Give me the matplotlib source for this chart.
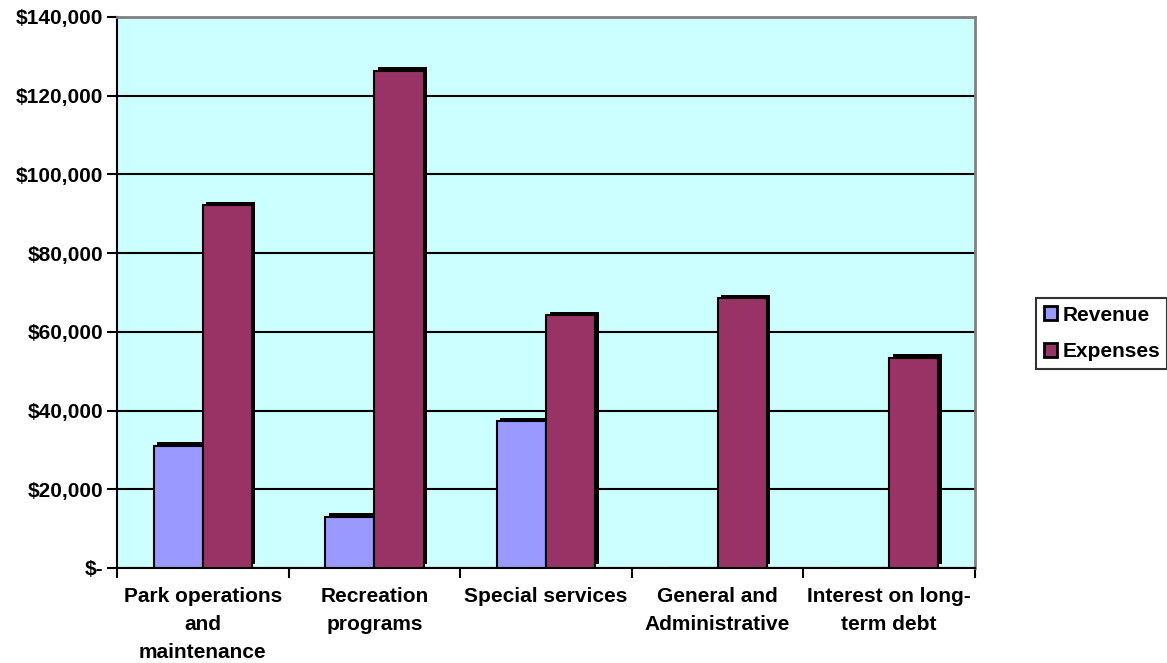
import numpy as np
import matplotlib.pyplot as plt
import matplotlib.transforms as mtransforms
from matplotlib.ticker import FuncFormatter, MultipleLocator
from matplotlib.patches import Patch

# Datos
categories = ["Park operations\nand\nmaintenance", "Recreation\nprograms",
              "Special services", "General and\nAdministrative",
              "Interest on long-\nterm debt"]
revenue = [31000, 13000, 37300, 0, 0]
expenses = [92200, 126400, 64200, 68500, 53400]

plt.rcParams.update({
    "font.family": ["Liberation Sans", "DejaVu Sans"],
    "font.weight": "bold",
})

fig = plt.figure(figsize=(11.67, 6.63), dpi=100)
ax = fig.add_axes([0.1003, 0.1433, 0.7352, 0.8311])
ax.set_facecolor("#CCFFFF")

x = np.arange(len(categories))
w = 0.286
fs = 15

# Sombra 3D (desplazada arriba/derecha)
shadow = mtransforms.offset_copy(ax.transData, fig=fig, x=3.5, y=3.5, units="dots")
for vals, off in [(revenue, -w / 2), (expenses, w / 2)]:
    ax.bar(x + off, vals, w, color="black", transform=shadow, zorder=2)

ax.bar(x - w / 2, revenue, w, color="#9999FF", edgecolor="black", linewidth=1.5, zorder=3, label="Revenue")
ax.bar(x + w / 2, expenses, w, color="#993366", edgecolor="black", linewidth=1.5, zorder=3, label="Expenses")

ax.set_xlim(-0.5, len(categories) - 0.5)
ax.set_ylim(0, 140000)
ax.yaxis.set_major_locator(MultipleLocator(20000))
ax.yaxis.set_major_formatter(FuncFormatter(lambda v, p: "$-" if v == 0 else f"${v:,.0f}"))
ax.grid(axis="y", color="black", linewidth=1.5, zorder=1)
ax.set_axisbelow(True)

# Ticks del eje x en los limites de categoria
ax.set_xticks(np.arange(len(categories) + 1) - 0.5)
ax.set_xticklabels([])
ax.set_xticks(x, minor=True)
ax.set_xticklabels(categories, minor=True, fontsize=fs, fontweight="bold", linespacing=1.58)
ax.tick_params(axis="x", which="minor", length=0, pad=14)
ax.tick_params(axis="x", which="major", length=7, width=1.5, direction="out")
ax.tick_params(axis="y", length=7, width=1.5, direction="out", labelsize=fs, pad=3)

for s in ["top", "right"]:
    ax.spines[s].set_color("#808080")
    ax.spines[s].set_linewidth(2)
ax.spines["left"].set_color("black")
ax.spines["left"].set_linewidth(1.5)
ax.spines["bottom"].set_color("black")
ax.spines["bottom"].set_linewidth(1.5)

handles = [Patch(facecolor="#9999FF", edgecolor="black", linewidth=2, label="Revenue"),
           Patch(facecolor="#993366", edgecolor="black", linewidth=2, label="Expenses")]
leg = fig.legend(handles=handles, loc="center left", bbox_to_anchor=(0.888, 0.497),
                 fontsize=fs, frameon=True, fancybox=False, edgecolor="black",
                 handlelength=0.65, handleheight=0.65, handletextpad=0.25,
                 borderpad=0.35, labelspacing=0.85, borderaxespad=0)
leg.get_frame().set_linewidth(1.5)
for t in leg.get_texts():
    t.set_fontweight("bold")

plt.savefig("out.png", dpi=100)
